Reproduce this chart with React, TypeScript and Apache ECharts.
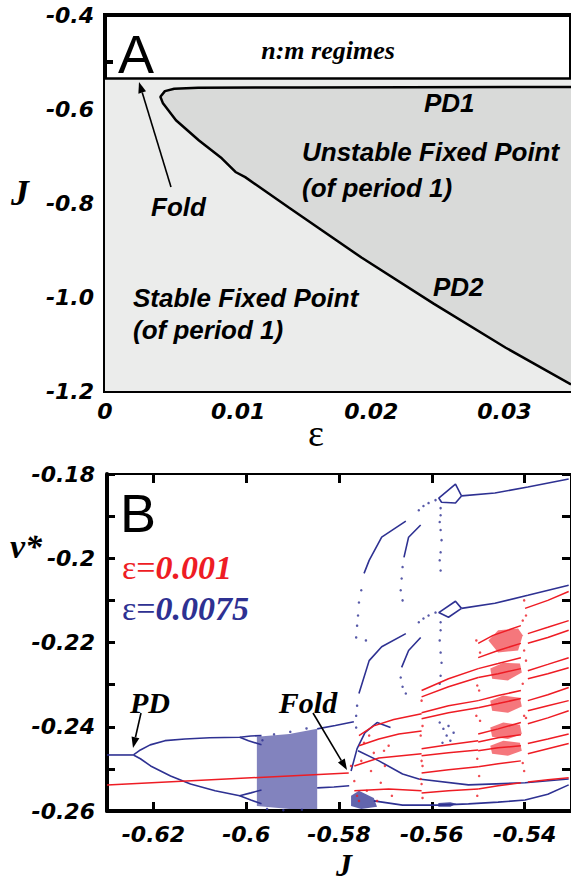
import React, { useEffect, useRef } from "react";
import * as echarts from "echarts";

const BLUE = "#2e3192";
const RED = "#ee1c24";

// ---------- Panel A ----------
const epsTicks = [0, 0.01, 0.02, 0.03];
const nmLineJ = -0.535;
const unstableTop: number[][] = [
  [0.035, -0.553], [0.015, -0.554], [0.007, -0.555], [0.0052, -0.557], [0.0045, -0.562], [0.00416, -0.574],
];
const unstableCurve: number[][] = [
  [0.00416, -0.574], [0.00434, -0.587], [0.00533, -0.624], [0.00706, -0.667], [0.00877, -0.705],
  [0.0098, -0.734], [0.01053, -0.745], [0.01383, -0.81], [0.01926, -0.916], [0.02468, -1.014],
  [0.0301, -1.108], [0.035, -1.186],
];

// ---------- Panel B ----------
const jTicksB = [-0.62, -0.6, -0.58, -0.56, -0.54];
const vTicksB = [-0.26, -0.24, -0.22, -0.2, -0.18];
const vMinorB = [-0.26, -0.25, -0.24, -0.23, -0.22, -0.21, -0.2, -0.19, -0.18];

// eps = 0.0075 (blue)
const blueP1 = [[-0.63, -0.2467], [-0.6243, -0.2467]];
const blueUp = [[-0.6243, -0.2467], [-0.6228, -0.2455], [-0.6207, -0.2443], [-0.6175, -0.2433], [-0.6132, -0.2429], [-0.6079, -0.2426], [-0.6014, -0.2425], [-0.599, -0.2422], [-0.5967, -0.2421]];
const blueUp2 = [[-0.6014, -0.2425], [-0.5995, -0.2433], [-0.5967, -0.2443]];
const blueLow = [[-0.6243, -0.2467], [-0.6228, -0.2476], [-0.6206, -0.2493], [-0.6163, -0.2517], [-0.612, -0.2536], [-0.6067, -0.2552], [-0.6014, -0.2564], [-0.599, -0.2557], [-0.5967, -0.255]];
const blueLow2 = [[-0.6014, -0.2564], [-0.599, -0.2574], [-0.5967, -0.2583]];
const blueBand = [
  [-0.5977, -0.2424], [-0.5907, -0.2417], [-0.5847, -0.2405], [-0.5847, -0.2595], [-0.5907, -0.2595], [-0.5977, -0.2588],
];
const blueAfterTop = [[-0.5847, -0.2405], [-0.5808, -0.2397], [-0.5768, -0.2388]];
const blueAfterMid = [[-0.5847, -0.2545], [-0.5811, -0.2543], [-0.5778, -0.254]];
const blueTopRight = [[-0.5536, -0.1852], [-0.5464, -0.1845], [-0.5393, -0.1831], [-0.5305, -0.1812]];
const blueTopLoop = [[-0.5536, -0.1852], [-0.5549, -0.1824], [-0.5585, -0.1857], [-0.5579, -0.1867], [-0.5549, -0.1869], [-0.5536, -0.1852]];
const blueMidRight = [[-0.5536, -0.2119], [-0.5464, -0.2107], [-0.5393, -0.2088], [-0.5305, -0.2064]];
const blueMidLoop = [[-0.5536, -0.2119], [-0.5549, -0.2102], [-0.5585, -0.2129], [-0.5564, -0.214], [-0.5536, -0.2119]];
const blueArc1 = [[-0.5656, -0.1912], [-0.5708, -0.195], [-0.5735, -0.2005], [-0.5746, -0.2036]];
const blueArc2 = [[-0.5624, -0.1921], [-0.565, -0.195], [-0.566, -0.1998]];
const blueArc3 = [[-0.5656, -0.2179], [-0.5708, -0.221], [-0.5735, -0.2243], [-0.5757, -0.2321]];
const blueArc4 = [[-0.5624, -0.2188], [-0.565, -0.2219], [-0.5665, -0.2259]];
const blueFoldLoop = [[-0.5774, -0.2505], [-0.5761, -0.2452], [-0.5744, -0.2414], [-0.5718, -0.239], [-0.5689, -0.2402]];
const blueDiag = [[-0.5759, -0.2457], [-0.5714, -0.2481], [-0.5663, -0.2512], [-0.5628, -0.2524], [-0.5521, -0.2538], [-0.5399, -0.2533], [-0.5305, -0.2524]];
const blueBottom = [[-0.5725, -0.2576], [-0.5663, -0.2586], [-0.5586, -0.2586], [-0.5521, -0.2583], [-0.5457, -0.2579], [-0.5399, -0.2574], [-0.535, -0.256], [-0.5305, -0.2538]];
const blueBlobFold = [[-0.5774, -0.2564], [-0.5757, -0.2552], [-0.5725, -0.2569], [-0.5718, -0.259], [-0.5752, -0.2595], [-0.5774, -0.2588]];
const blueBlobRight = [[-0.5586, -0.2581], [-0.556, -0.2579], [-0.5547, -0.2583], [-0.556, -0.259], [-0.5586, -0.259]];
const blueDots = [
  [-0.5752, -0.2076], [-0.5757, -0.2105], [-0.5759, -0.2136], [-0.5761, -0.216], [-0.5763, -0.2188], [-0.5742, -0.2195],
  [-0.5761, -0.235], [-0.5763, -0.2374], [-0.5763, -0.2402],
  [-0.5663, -0.2021], [-0.5665, -0.2048], [-0.5667, -0.2076], [-0.5663, -0.21],
  [-0.5667, -0.2283], [-0.5663, -0.2305], [-0.5656, -0.2321],
  [-0.5581, -0.1881], [-0.5581, -0.1898], [-0.5583, -0.1914], [-0.5581, -0.1933], [-0.5579, -0.1957], [-0.5581, -0.1986], [-0.5583, -0.2005], [-0.5581, -0.2029],
  [-0.5581, -0.2152], [-0.5581, -0.2171], [-0.5583, -0.2195], [-0.5581, -0.2224], [-0.5579, -0.2248], [-0.5581, -0.2279], [-0.5583, -0.2298],
  [-0.5592, -0.1862], [-0.5607, -0.1869], [-0.5618, -0.1876], [-0.5628, -0.1886],
  [-0.5592, -0.2129], [-0.5607, -0.2136], [-0.5618, -0.2143], [-0.5628, -0.2152],
  [-0.5583, -0.239], [-0.5575, -0.2405], [-0.5564, -0.2398], [-0.5568, -0.2421], [-0.556, -0.2433], [-0.5577, -0.2438], [-0.5553, -0.2414],
  [-0.5965, -0.2432], [-0.594, -0.2418], [-0.5905, -0.2412], [-0.587, -0.2404], [-0.5955, -0.2595], [-0.592, -0.2598], [-0.588, -0.2597],
];

// eps = 0.001 (red)
const redFlat = [[-0.63, -0.2538], [-0.5779, -0.251]];
const red0a = [[-0.5757, -0.2421], [-0.5725, -0.2398], [-0.5682, -0.2383], [-0.5622, -0.2369]];
const red0b = [[-0.5757, -0.2445], [-0.5714, -0.2429], [-0.5671, -0.2417], [-0.5622, -0.241]];
const red0c = [[-0.5767, -0.2493], [-0.5714, -0.2474], [-0.5622, -0.2464]];
const red0d = [[-0.5767, -0.2552], [-0.5693, -0.2548], [-0.5622, -0.2552]];
const red1a = [[-0.5622, -0.2314], [-0.5564, -0.2286], [-0.55, -0.2262]];
const red1b = [[-0.5622, -0.2329], [-0.5564, -0.2305], [-0.55, -0.2283]];
const red1c = [[-0.5622, -0.2367], [-0.5564, -0.235], [-0.55, -0.2338]];
const red1d = [[-0.5622, -0.2381], [-0.5564, -0.2367], [-0.55, -0.2355]];
const red1e = [[-0.5622, -0.2452], [-0.5564, -0.2443], [-0.55, -0.2433]];
const red1f = [[-0.5622, -0.2469], [-0.5564, -0.2462], [-0.55, -0.2455]];
const red1g = [[-0.5622, -0.251], [-0.5564, -0.2502], [-0.55, -0.2495]];
const red1h = [[-0.5622, -0.2557], [-0.5564, -0.2552], [-0.55, -0.2548]];
const red2a = [[-0.55, -0.2202], [-0.5468, -0.2183], [-0.5408, -0.216]];
const red2b = [[-0.55, -0.2236], [-0.5457, -0.2219], [-0.5408, -0.2202]];
const red2c = [[-0.55, -0.2262], [-0.5457, -0.225], [-0.5408, -0.2236]];
const red2d = [[-0.55, -0.2283], [-0.5457, -0.2274], [-0.5408, -0.2262]];
const red2e = [[-0.55, -0.2338], [-0.5457, -0.2326], [-0.5408, -0.2314]];
const red2f = [[-0.55, -0.2355], [-0.5457, -0.2345], [-0.5408, -0.2333]];
const red2g = [[-0.55, -0.2417], [-0.5457, -0.2405], [-0.5408, -0.239]];
const red2h = [[-0.55, -0.2436], [-0.5457, -0.2426], [-0.5408, -0.2419]];
const red2i = [[-0.55, -0.2457], [-0.5457, -0.245], [-0.5408, -0.2445]];
const red2j = [[-0.55, -0.2495], [-0.5457, -0.2488], [-0.5408, -0.2481]];
const red2k = [[-0.55, -0.2548], [-0.5457, -0.254], [-0.5408, -0.2533]];
const red3a = [[-0.5399, -0.2119], [-0.535, -0.21], [-0.5305, -0.2079]];
const red3b = [[-0.5393, -0.2179], [-0.535, -0.2164], [-0.5305, -0.2148]];
const red3c = [[-0.5393, -0.2202], [-0.535, -0.2188], [-0.5305, -0.2171]];
const red3d = [[-0.5393, -0.2267], [-0.535, -0.2252], [-0.5305, -0.2236]];
const red3e = [[-0.5393, -0.2286], [-0.535, -0.2274], [-0.5305, -0.226]];
const red3f = [[-0.5393, -0.2338], [-0.535, -0.2324], [-0.5305, -0.2307]];
const red3g = [[-0.5393, -0.2362], [-0.535, -0.235], [-0.5305, -0.2338]];
const red3h = [[-0.5393, -0.2393], [-0.535, -0.2379], [-0.5305, -0.2362]];
const red3i = [[-0.5393, -0.244], [-0.535, -0.2429], [-0.5305, -0.2417]];
const red3j = [[-0.5393, -0.2464], [-0.535, -0.2452], [-0.5305, -0.244]];
const red3k = [[-0.5393, -0.2531], [-0.535, -0.2526], [-0.5305, -0.2521]];
const redClusters = [
  [[-0.5478, -0.2195], [-0.5457, -0.2171], [-0.5414, -0.2167], [-0.5404, -0.2183], [-0.5414, -0.2219], [-0.5457, -0.2224]],
  [[-0.5474, -0.2262], [-0.5446, -0.2248], [-0.541, -0.225], [-0.5406, -0.2271], [-0.5436, -0.229], [-0.547, -0.2286]],
  [[-0.5474, -0.2338], [-0.5446, -0.2326], [-0.541, -0.2331], [-0.5406, -0.2352], [-0.5436, -0.2367], [-0.547, -0.2362]],
  [[-0.5474, -0.2402], [-0.5446, -0.239], [-0.541, -0.2395], [-0.5406, -0.2417], [-0.5436, -0.2429], [-0.547, -0.2424]],
  [[-0.5474, -0.2445], [-0.5446, -0.2433], [-0.541, -0.2438], [-0.5406, -0.2457], [-0.5436, -0.2469], [-0.547, -0.2464]],
];
const redDots = [
  [-0.5622, -0.2338], [-0.562, -0.2398], [-0.5624, -0.2421], [-0.5622, -0.2481], [-0.562, -0.2493], [-0.5624, -0.2524], [-0.5622, -0.2536], [-0.562, -0.2569],
  [-0.5504, -0.2195], [-0.5496, -0.2224], [-0.5502, -0.2302], [-0.5498, -0.2314], [-0.5504, -0.2374], [-0.5496, -0.2386], [-0.5502, -0.2476], [-0.5498, -0.2517], [-0.5502, -0.2564],
  [-0.5401, -0.21], [-0.5397, -0.2136], [-0.5404, -0.2148], [-0.5401, -0.2219], [-0.5397, -0.2243], [-0.5404, -0.2298], [-0.5401, -0.2374], [-0.5397, -0.2379], [-0.5404, -0.2486], [-0.5401, -0.2505],
  [-0.5774, -0.2493], [-0.5767, -0.2529], [-0.5761, -0.2564], [-0.5752, -0.2481], [-0.5746, -0.2438], [-0.574, -0.2552], [-0.5731, -0.2505], [-0.5725, -0.2462],
  [-0.5718, -0.2576], [-0.571, -0.2533], [-0.5701, -0.2493], [-0.5693, -0.2445], [-0.5686, -0.2564], [-0.5757, -0.2576], [-0.5735, -0.2421], [-0.5703, -0.2457],
];

const blueLines = [blueP1, blueUp, blueUp2, blueLow, blueLow2, blueAfterTop, blueAfterMid, blueTopRight, blueTopLoop, blueMidRight, blueMidLoop, blueArc1, blueArc2, blueArc3, blueArc4, blueFoldLoop, blueDiag, blueBottom];
const redLines = [redFlat, red0a, red0b, red0c, red0d, red1a, red1b, red1c, red1d, red1e, red1f, red1g, red1h, red2a, red2b, red2c, red2d, red2e, red2f, red2g, red2h, red2i, red2j, red2k, red3a, red3b, red3c, red3d, red3e, red3f, red3g, red3h, red3i, red3j, red3k];

function polygonSeries(points: number[][], fill: string, stroke: string, lw: number, idx: number, z = 1) {
  return {
    type: "custom",
    xAxisIndex: idx,
    yAxisIndex: idx,
    z,
    silent: true,
    data: [points[0]],
    renderItem: (_p: any, api: any) => ({
      type: "polygon",
      shape: { points: points.map((pt) => api.coord(pt)) },
      style: { fill, stroke, lineWidth: lw },
    }),
  };
}

function lineSeries(points: number[][], color: string, width: number, idx: number, z = 3) {
  return {
    type: "line",
    xAxisIndex: idx,
    yAxisIndex: idx,
    data: points,
    showSymbol: false,
    symbol: "none",
    z,
    lineStyle: { color, width },
    silent: true,
  };
}

function arrow(x1: number, y1: number, x2: number, y2: number) {
  const ang = Math.atan2(y2 - y1, x2 - x1);
  const L = 11, W = 4;
  const bx = x2 - L * Math.cos(ang), by = y2 - L * Math.sin(ang);
  const px = -Math.sin(ang) * W, py = Math.cos(ang) * W;
  return [
    { type: "line", shape: { x1, y1, x2: bx, y2: by }, style: { stroke: "#000", lineWidth: 1.6 }, z: 20 },
    { type: "polygon", shape: { points: [[x2, y2], [bx + px, by + py], [bx - px, by - py]] }, style: { fill: "#000" }, z: 20 },
  ];
}

const sansBI = { fontFamily: "Liberation Sans, Arial, sans-serif", fontWeight: "bold", fontStyle: "italic" };
const serifBI = { fontFamily: "Liberation Serif, Times New Roman, serif", fontWeight: "bold", fontStyle: "italic" };
const tickFont = { fontFamily: "DejaVu Sans, sans-serif", fontWeight: "bold", fontStyle: "italic", color: "#000" };

function txt(text: string, x: number, y: number, style: any, align = "left") {
  return { type: "text", x, y, z: 30, style: { text, ...style, textAlign: align, textVerticalAlign: "middle" } };
}

export default function App() {
  const ref = useRef<HTMLDivElement>(null);
  useEffect(() => {
    if (!ref.current) return;
    const chart = echarts.init(ref.current, undefined, { renderer: "svg" });
    const fmt2 = (v: number) => String(Number(v.toFixed(2)));
    const option: any = {
      animation: false,
      backgroundColor: "#fff",
      grid: [
        { left: 105, top: 15, width: 470, height: 376, show: true, borderColor: "#000", borderWidth: 4, backgroundColor: "#fff" },
        { left: 107, top: 474, width: 466, height: 337, show: true, borderColor: "#000", borderWidth: 2, backgroundColor: "#fff" },
      ],
      xAxis: [
        {
          type: "value", gridIndex: 0, min: 0, max: 0.035,
          axisLine: { show: true, lineStyle: { color: "#000", width: 4 } },
          axisTick: { show: true, inside: true, length: 10, customValues: epsTicks.slice(1), lineStyle: { color: "#000", width: 4 } },
          axisLabel: { customValues: epsTicks, margin: 9, ...tickFont, fontSize: 22, formatter: (v: number) => (v === 0 ? "0" : String(Number(v.toFixed(3)))) },
          splitLine: { show: false },
        },
        {
          type: "value", gridIndex: 1, min: -0.63, max: -0.53,
          axisLine: { show: true, lineStyle: { color: "#000", width: 4 } },
          axisTick: { show: true, inside: true, length: 9, customValues: jTicksB, lineStyle: { color: "#000", width: 3 } },
          axisLabel: { customValues: jTicksB, margin: 12, ...tickFont, fontSize: 22, formatter: fmt2 },
          splitLine: { show: false },
        },
        {
          type: "value", gridIndex: 1, min: -0.63, max: -0.53, position: "top",
          axisLine: { show: true, lineStyle: { color: "#000", width: 2 } },
          axisTick: { show: true, inside: true, length: 9, customValues: jTicksB, lineStyle: { color: "#000", width: 3 } },
          axisLabel: { show: false },
          splitLine: { show: false },
        },
      ],
      yAxis: [
        {
          type: "value", gridIndex: 0, min: -1.2, max: -0.4, interval: 0.2,
          axisLine: { show: true, lineStyle: { color: "#000", width: 4 } },
          axisTick: { show: true, inside: true, length: 14, lineStyle: { color: "#000", width: 4 } },
          minorTick: { show: true, splitNumber: 2, length: 8, lineStyle: { color: "#000", width: 4 } },
          axisLabel: { margin: 11, ...tickFont, fontSize: 22, formatter: (v: number) => v.toFixed(1) },
          splitLine: { show: false },
        },
        {
          type: "value", gridIndex: 1, min: -0.26, max: -0.18,
          axisLine: { show: true, lineStyle: { color: "#000", width: 4 } },
          axisTick: { show: true, inside: true, length: 8, customValues: vMinorB, lineStyle: { color: "#000", width: 3 } },
          axisLabel: { customValues: vTicksB, margin: 12, ...tickFont, fontSize: 22, formatter: fmt2 },
          splitLine: { show: false },
        },
        {
          type: "value", gridIndex: 1, min: -0.26, max: -0.18, position: "right",
          axisLine: { show: false },
          axisTick: { show: true, inside: true, length: 9, customValues: vMinorB, lineStyle: { color: "#000", width: 3 } },
          axisLabel: { show: false },
          splitLine: { show: false },
        },
      ],
      series: [
        polygonSeries([[0, -1.2], [0.035, -1.2], [0.035, nmLineJ], [0, nmLineJ]], "#ebeceb", "none", 0, 0, 1),
        polygonSeries([...unstableTop, ...unstableCurve.slice(1)], "#d9dad9", "none", 0, 0, 2),
        lineSeries([[0, nmLineJ], [0.035, nmLineJ]], "#000", 2.5, 0, 4),
        lineSeries([...unstableTop, ...unstableCurve.slice(1)], "#000", 2.5, 0, 4),
        // panel B
        polygonSeries(blueBand, "rgba(46,49,146,0.6)", "none", 0, 1, 2),
        polygonSeries(blueBlobFold, "rgba(46,49,146,0.75)", "none", 0, 1, 2),
        polygonSeries(blueBlobRight, "rgba(46,49,146,0.85)", "none", 0, 1, 2),
        ...blueLines.map((d) => lineSeries(d, BLUE, 1.6, 1, 3)),
        { type: "scatter", xAxisIndex: 1, yAxisIndex: 1, data: blueDots, symbolSize: 2.5, itemStyle: { color: BLUE }, silent: true, z: 3 },
        ...redClusters.map((c) => polygonSeries(c, "rgba(238,28,36,0.6)", "none", 0, 1, 4)),
        ...redLines.map((d) => lineSeries(d, RED, 1.5, 1, 5)),
        { type: "scatter", xAxisIndex: 1, yAxisIndex: 1, data: redDots, symbolSize: 2.5, itemStyle: { color: RED }, silent: true, z: 5 },
      ],
      graphic: [
        // panel A
        txt("A", 118, 54, { fontFamily: "Liberation Sans, Arial, sans-serif", fontSize: 54, fill: "#000" }),
        txt("n:m regimes", 328, 50, { ...serifBI, fontSize: 26, fill: "#000" }, "center"),
        txt("PD1", 424, 103, { ...sansBI, fontSize: 26, fill: "#000" }),
        txt("Unstable Fixed Point", 302, 152, { ...sansBI, fontSize: 26, fill: "#000" }),
        txt("(of period 1)", 302, 188, { ...sansBI, fontSize: 26, fill: "#000" }),
        txt("Fold", 151, 207, { ...sansBI, fontSize: 26, fill: "#000" }),
        txt("PD2", 433, 287, { ...sansBI, fontSize: 26, fill: "#000" }),
        txt("Stable Fixed Point", 133, 298, { ...sansBI, fontSize: 26, fill: "#000" }),
        txt("(of period 1)", 133, 330, { ...sansBI, fontSize: 26, fill: "#000" }),
        ...arrow(171, 187, 139, 82),
        txt("J", 20, 193, { ...serifBI, fontSize: 36, fill: "#000" }, "center"),
        txt("ε", 316, 433, { fontFamily: "Liberation Serif, serif", fontSize: 38, fill: "#000" }, "center"),
        // panel B
        txt("B", 120, 513, { fontFamily: "Liberation Sans, Arial, sans-serif", fontSize: 54, fill: "#000" }),
        {
          type: "text", x: 122, y: 567, z: 30,
          style: {
            text: "{a|ε=}{b|0.001}", textVerticalAlign: "middle",
            rich: { a: { fontFamily: "Liberation Serif, serif", fontSize: 34, fill: RED, color: RED }, b: { ...serifBI, fontSize: 34, fill: RED, color: RED } },
          },
        },
        {
          type: "text", x: 122, y: 608, z: 30,
          style: {
            text: "{a|ε=}{b|0.0075}", textVerticalAlign: "middle",
            rich: { a: { fontFamily: "Liberation Serif, serif", fontSize: 34, fill: BLUE, color: BLUE }, b: { ...serifBI, fontSize: 34, fill: BLUE, color: BLUE } },
          },
        },
        txt("PD", 150, 702, { ...serifBI, fontSize: 30, fill: "#000" }, "center"),
        ...arrow(141, 713, 133, 748),
        txt("Fold", 308, 702, { ...serifBI, fontSize: 30, fill: "#000" }, "center"),
        ...arrow(313, 713, 347, 770),
        txt("v*", 26, 546, { ...serifBI, fontSize: 34, fill: "#000" }, "center"),
        txt("J", 344, 865, { ...serifBI, fontSize: 32, fill: "#000" }, "center"),
      ],
    };
    chart.setOption(option);
    return () => chart.dispose();
  }, []);
  return <div ref={ref} style={{ position: "fixed", left: 0, top: 0, width: 571, height: 882 }} />;
}
